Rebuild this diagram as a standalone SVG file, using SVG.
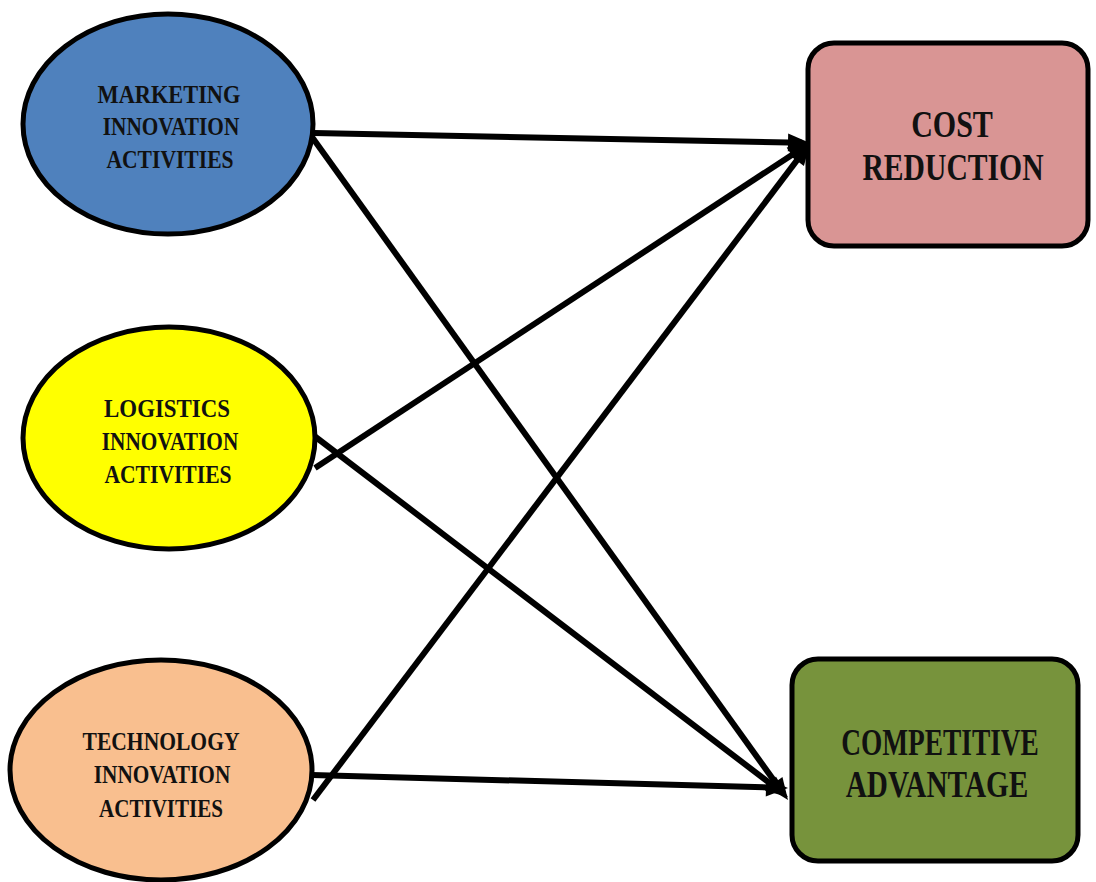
<svg xmlns="http://www.w3.org/2000/svg" width="1096" height="882" viewBox="0 0 1096 882">
<style>
.node{stroke:#000;stroke-width:5}
.t{font-family:"Liberation Serif","Times New Roman",serif;font-weight:bold;fill:#111;text-anchor:middle}
.s{font-size:26px}
.b{font-size:38px}
.c{stroke:#000;stroke-width:6;fill:none;marker-end:url(#ah)}
</style>
<defs>
<marker id="ah" markerUnits="userSpaceOnUse" markerWidth="22" markerHeight="18" refX="14" refY="9" orient="auto" overflow="visible">
<path d="M0,0 L22,9 L0,18 z" fill="#000"/>
</marker>
</defs>
<rect width="1096" height="882" fill="#fff"/>
<g id="connectors">
<path class="c" d="M314,133 L802,142.8"/>
<path class="c" d="M312,137 L783.3,793.5"/>
<path class="c" d="M315,468 L803.3,147.4"/>
<path class="c" d="M313,435 L781.6,792.2"/>
<path class="c" d="M313,800 L805.2,149.4"/>
<path class="c" d="M312,775 L780,787.8"/>
</g>
<g id="marketing">
<ellipse class="node" cx="168" cy="124" rx="145" ry="110" fill="#4F81BD"/>
<text class="t s" transform="translate(169,103) scale(0.86,1)">MARKETING</text>
<text class="t s" transform="translate(171,135) scale(0.82,1)">INNOVATION</text>
<text class="t s" transform="translate(170,168) scale(0.83,1)">ACTIVITIES</text>
</g>
<g id="logistics">
<ellipse class="node" cx="169" cy="438" rx="146" ry="111" fill="#FFFF00"/>
<text class="t s" transform="translate(167,417) scale(0.88,1)">LOGISTICS</text>
<text class="t s" transform="translate(170,450) scale(0.82,1)">INNOVATION</text>
<text class="t s" transform="translate(168,483) scale(0.83,1)">ACTIVITIES</text>
</g>
<g id="technology">
<ellipse class="node" cx="161" cy="770" rx="151" ry="110" fill="#F9BF8F"/>
<text class="t s" transform="translate(161,750) scale(0.83,1)">TECHNOLOGY</text>
<text class="t s" transform="translate(162,783) scale(0.82,1)">INNOVATION</text>
<text class="t s" transform="translate(161,817) scale(0.81,1)">ACTIVITIES</text>
</g>
<g id="cost">
<rect class="node" x="808" y="43" width="280" height="203" rx="26" fill="#D99594"/>
<text class="t b" transform="translate(952,137) scale(0.79,1)">COST</text>
<text class="t b" transform="translate(953,180) scale(0.78,1)">REDUCTION</text>
</g>
<g id="competitive">
<rect class="node" x="792" y="659" width="286" height="202" rx="26" fill="#77933C"/>
<text class="t b" transform="translate(940,755) scale(0.72,1)">COMPETITIVE</text>
<text class="t b" transform="translate(937,797) scale(0.77,1)">ADVANTAGE</text>
</g>
</svg>
